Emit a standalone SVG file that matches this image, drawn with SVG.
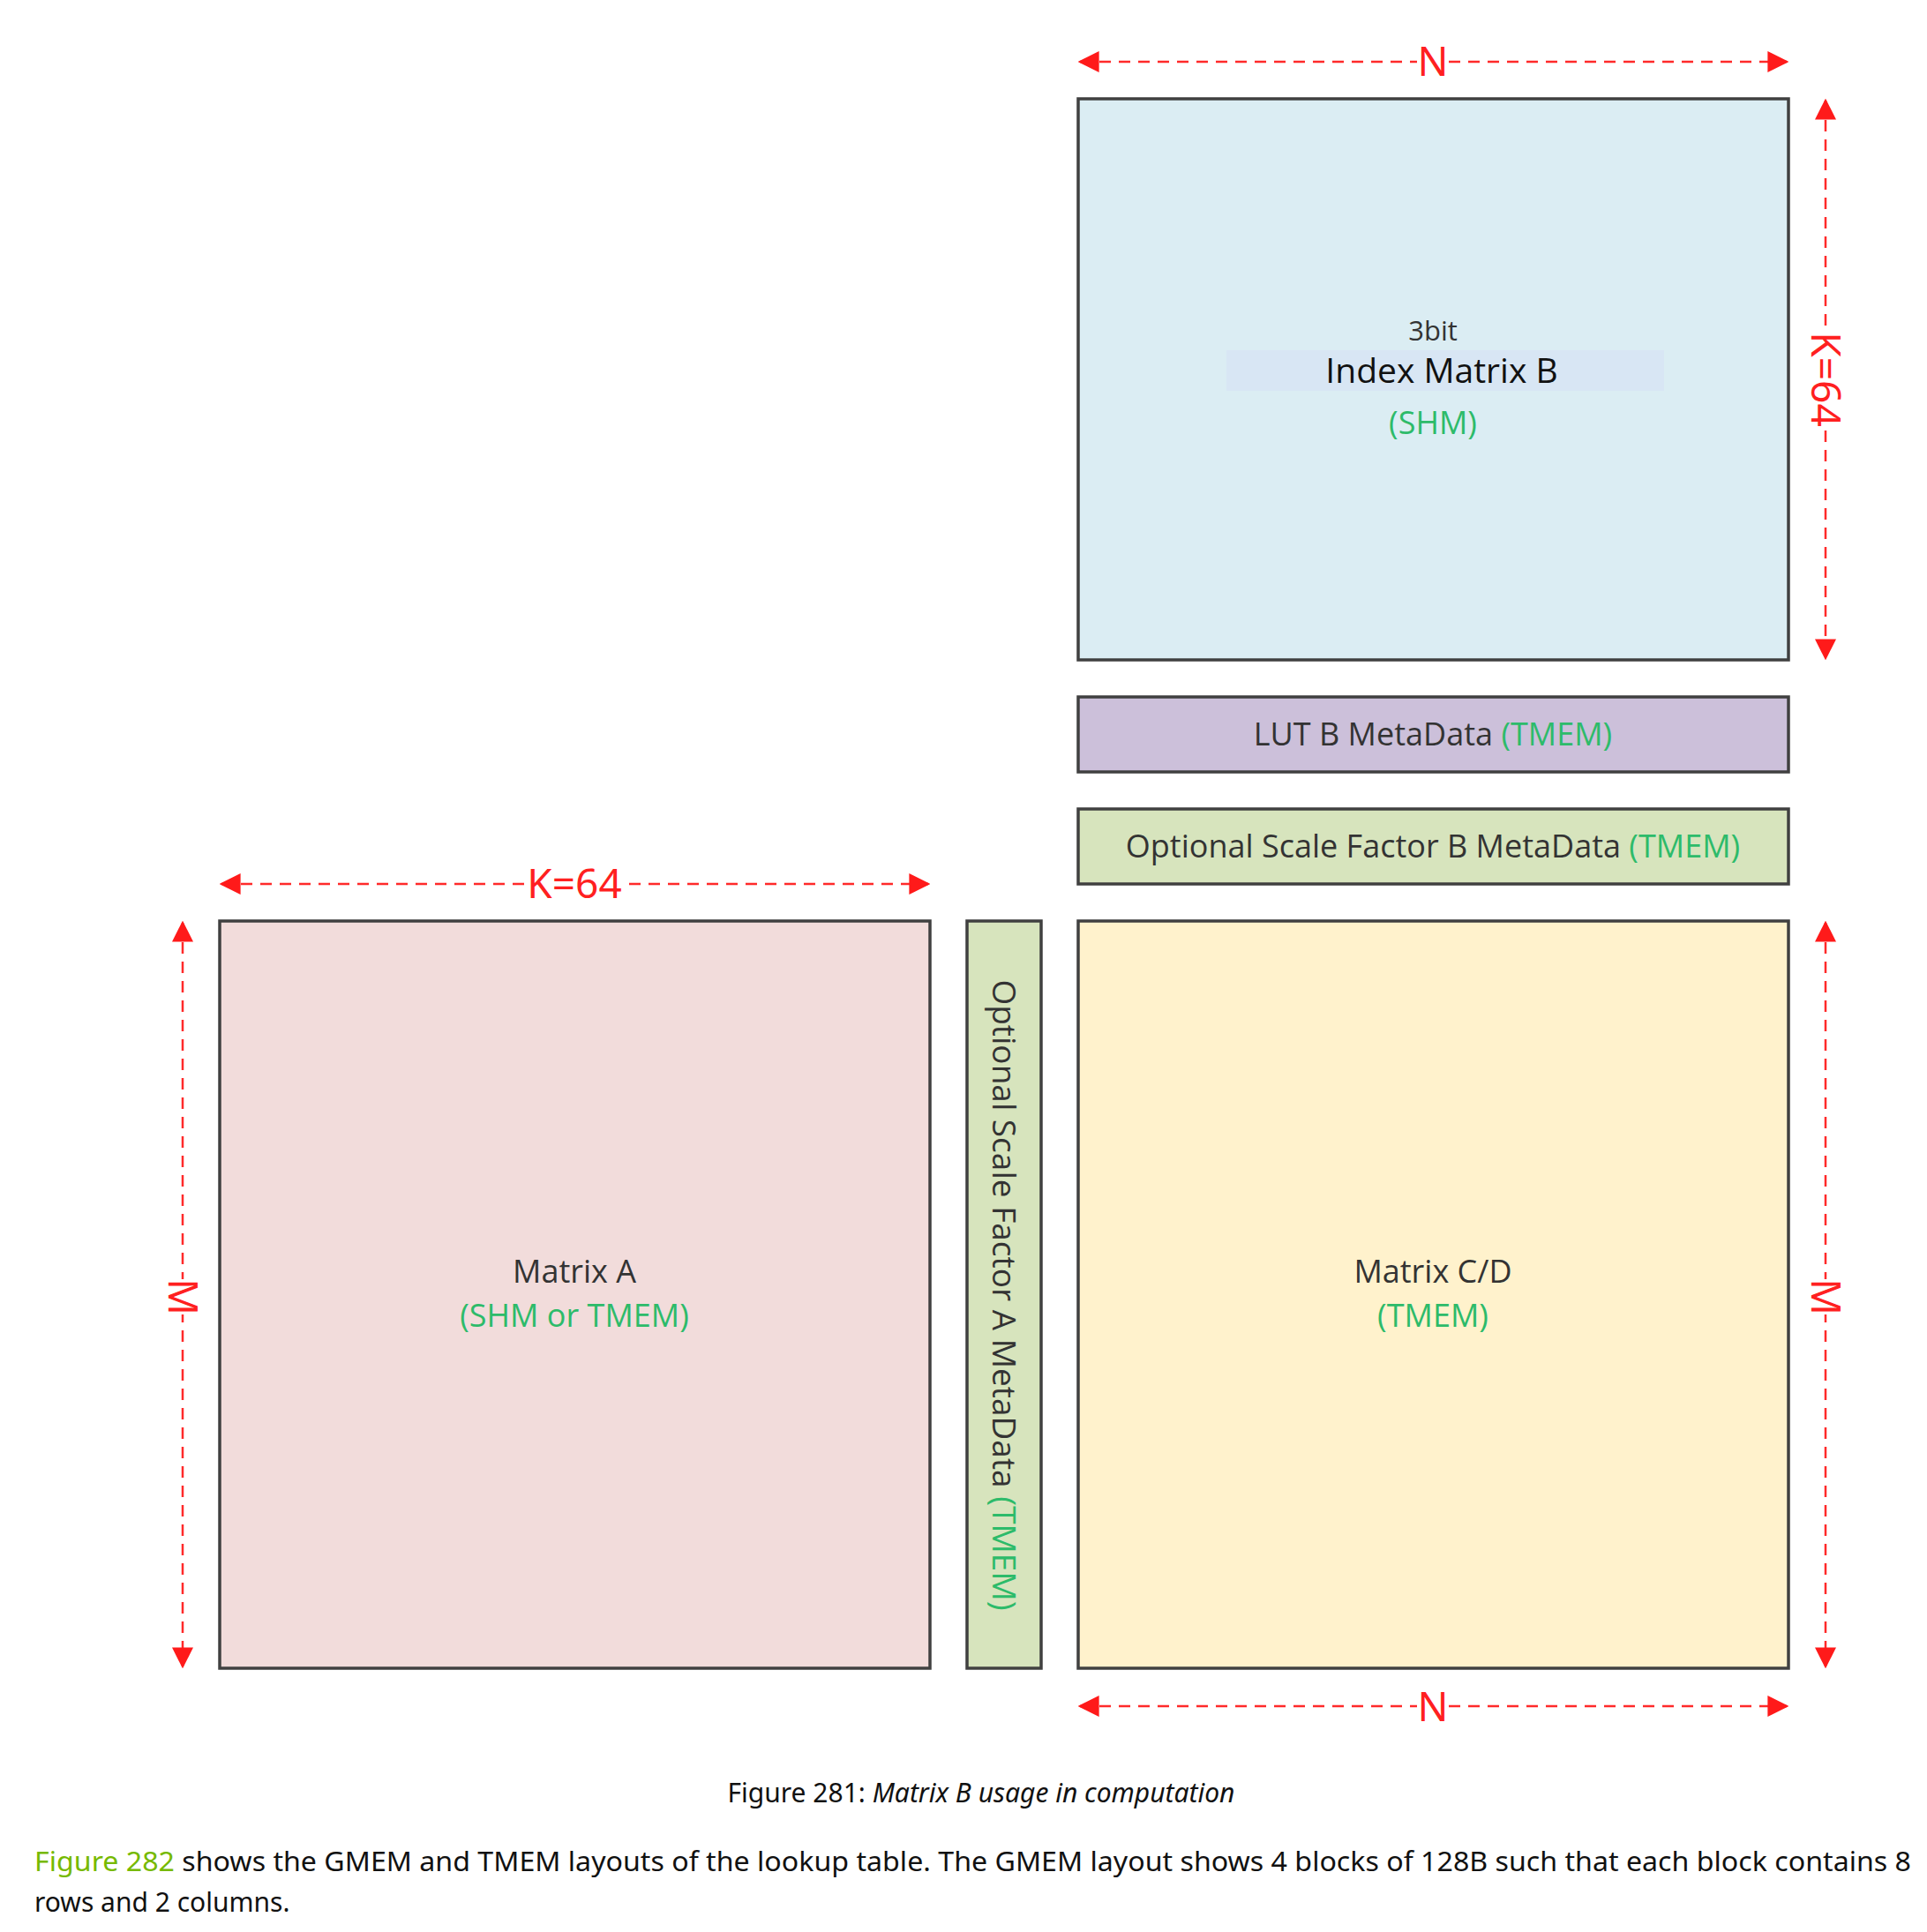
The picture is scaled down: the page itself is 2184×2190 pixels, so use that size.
<svg xmlns="http://www.w3.org/2000/svg" width="2184" height="2190" viewBox="0 0 2184 2190">
<defs>
<marker id="ah" viewBox="0 0 10 10" refX="9" refY="5" markerWidth="24" markerHeight="24" orient="auto-start-reverse" markerUnits="userSpaceOnUse"><path d="M0,0 L10,5 L0,10 z" fill="#ff1a1a"/></marker>
<style>
.box{stroke:#404040;stroke-width:3.5}
.lbl{font-family:"Open Sans","Noto Sans",sans-serif;font-size:36px;fill:#333;text-anchor:middle}
.g{fill:#2dbb6a}
.dim{stroke:#ff2a2a;stroke-width:2.5;stroke-dasharray:13 9;fill:none}
.dl{font-family:"Noto Sans",sans-serif;font-size:46px;fill:#ff2020;text-anchor:middle}
.cap{font-family:"Noto Sans",sans-serif;font-size:30px;fill:#111}
</style>
</defs>
<rect width="2184" height="2190" fill="#fff"/>
<g id="matrixB">
<rect class="box" x="1222" y="112" width="805" height="636" fill="#dbedf3"/>
<rect x="1390" y="397" width="496" height="46" fill="#d8e6f4"/>
<text class="lbl" x="1624" y="386" style="font-size:31px">3bit</text>
<text class="lbl" x="1634" y="434" style="font-size:39px;fill:#111">Index Matrix B</text>
<text class="lbl g" x="1624" y="492">(SHM)</text>
</g>
<g id="lutB">
<rect class="box" x="1222" y="790" width="805" height="85" fill="#ccc0da"/>
<text class="lbl" x="1624" y="845">LUT B MetaData <tspan class="g">(TMEM)</tspan></text>
</g>
<g id="scaleB">
<rect class="box" x="1222" y="917" width="805" height="85" fill="#d7e4bd"/>
<text class="lbl" x="1624" y="972">Optional Scale Factor B MetaData <tspan class="g">(TMEM)</tspan></text>
</g>
<g id="matrixA">
<rect class="box" x="249" y="1044" width="805" height="847" fill="#f2dcdb"/>
<text class="lbl" x="651" y="1454">Matrix A</text>
<text class="lbl g" x="651" y="1504">(SHM or TMEM)</text>
</g>
<g id="scaleA">
<rect class="box" x="1096" y="1044" width="84" height="847" fill="#d7e4bd"/>
<text class="lbl" transform="translate(1125,1468) rotate(90)" style="font-size:37px">Optional Scale Factor A MetaData <tspan class="g">(TMEM)</tspan></text>
</g>
<g id="matrixCD">
<rect class="box" x="1222" y="1044" width="805" height="847" fill="#fff2cc"/>
<text class="lbl" x="1624" y="1454">Matrix C/D</text>
<text class="lbl g" x="1624" y="1504">(TMEM)</text>
</g>
<g id="connectors">
<line class="dim" x1="1224" y1="70" x2="2025" y2="70" marker-start="url(#ah)" marker-end="url(#ah)"/>
<line class="dim" x1="2069" y1="114" x2="2069" y2="746" marker-start="url(#ah)" marker-end="url(#ah)"/>
<line class="dim" x1="251" y1="1002" x2="1052" y2="1002" marker-start="url(#ah)" marker-end="url(#ah)"/>
<line class="dim" x1="207" y1="1046" x2="207" y2="1889" marker-start="url(#ah)" marker-end="url(#ah)"/>
<line class="dim" x1="2069" y1="1046" x2="2069" y2="1889" marker-start="url(#ah)" marker-end="url(#ah)"/>
<line class="dim" x1="1224" y1="1934" x2="2025" y2="1934" marker-start="url(#ah)" marker-end="url(#ah)"/>
<rect x="1606" y="44" width="36" height="50" fill="#fff"/>
<text class="dl" x="1624" y="86">N</text>
<rect x="594" y="976" width="114" height="50" fill="#fff"/>
<text class="dl" x="651" y="1018">K=64</text>
<rect x="1606" y="1908" width="36" height="50" fill="#fff"/>
<text class="dl" x="1624" y="1951">N</text>
<rect x="2046" y="372" width="46" height="116" fill="#fff"/>
<text class="dl" transform="translate(2053,430) rotate(90)">K=64</text>
<rect x="186" y="1450" width="42" height="40" fill="#fff"/>
<text class="dl" transform="translate(191,1470) rotate(90)">M</text>
<rect x="2048" y="1450" width="42" height="40" fill="#fff"/>
<text class="dl" transform="translate(2053,1470) rotate(90)">M</text>
</g>
<text class="cap" x="1112" y="2043" text-anchor="middle">Figure 281: <tspan font-style="italic">Matrix B usage in computation</tspan></text>
<text class="cap" x="39" y="2121" textLength="2127" lengthAdjust="spacingAndGlyphs"><tspan fill="#76b900">Figure 282</tspan> shows the GMEM and TMEM layouts of the lookup table. The GMEM layout shows 4 blocks of 128B such that each block contains 8</text>
<text class="cap" x="39" y="2167">rows and 2 columns.</text>
</svg>
